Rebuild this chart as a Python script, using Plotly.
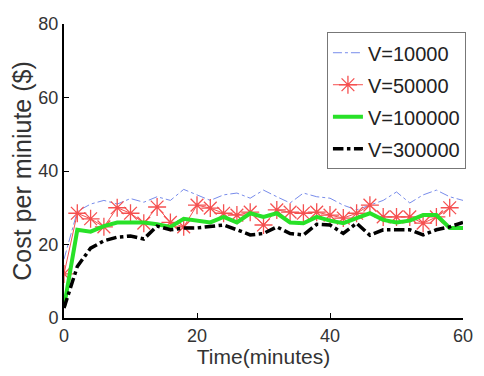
import plotly.graph_objects as go

t = list(range(0, 61, 2))
t_red = list(range(0, 59, 2))

v10000 = [16, 29, 31, 32, 31, 32.5, 31.5, 33, 32, 35, 33.5, 32, 33.5, 34, 32.6, 34.8,
          33, 31.3, 34, 33, 32.6, 30.7, 29.4, 30.7, 32, 34.3, 31.3, 33.5, 34.8, 33, 32]
v50000 = [12, 28.5, 27, 24.8, 30, 28.5, 25.8, 30.2, 26, 24.8, 30.7, 29.9, 28.5, 28, 28.8,
          25.3, 29.4, 28.8, 28.5, 28.8, 28, 27.2, 28.5, 30.7, 27.5, 27.5, 27.5, 25.8, 27.5, 30]
v100000 = [3, 24, 23.5, 25, 26, 26, 26, 25.5, 24.8, 27, 26.5, 26, 27.5, 26, 28.5, 27.5,
           28.5, 26, 25.8, 27.5, 26.5, 25.8, 27.2, 28.5, 26.7, 26, 26.5, 28, 28, 24.5, 24.5]
v300000 = [2.7, 14, 19, 21, 22, 22.3, 21.5, 25, 24, 24.5, 24.5, 24.8, 25.3, 24, 22.6, 23,
           24.8, 23, 22.6, 25.5, 25.3, 23, 25.8, 22.5, 24, 24, 24, 22.6, 24, 24.8, 26]

names = ["V=10000", "V=50000", "V=100000", "V=300000"]
x_ticks = [0, 20, 40, 60]
y_ticks = [0, 20, 40, 60, 80]

fig = go.Figure()
fig.add_trace(go.Scatter(x=t, y=v10000, name=names[0], mode="lines", legendgroup="a",
                         line=dict(color="rgb(120,140,235)", width=1, dash="dashdot")))
fig.add_trace(go.Scatter(x=t_red, y=v50000, name=names[1], mode="lines+markers", legendgroup="b",
                         line=dict(color="rgb(245,80,80)", width=1),
                         marker=dict(symbol="asterisk-open", size=15,
                                     line=dict(color="rgb(245,80,80)", width=1.3))))
fig.add_trace(go.Scatter(x=t, y=v100000, name=names[2], mode="lines", legendgroup="c",
                         line=dict(color="rgb(40,225,40)", width=4)))
fig.add_trace(go.Scatter(x=t, y=v300000, name=names[3], mode="lines", legendgroup="d",
                         line=dict(color="black", width=3.5, dash="dashdot")))

font_family = "Liberation Sans, Arial, sans-serif"
txt = "#333"
# page body has an 8px margin, so the figure is offset by (8, 8); keep it inside the window
fig.update_layout(
    width=468, height=360,
    margin=dict(l=56, r=10, t=16, b=50),
    paper_bgcolor="white", plot_bgcolor="white",
    font=dict(family=font_family, size=18, color=txt),
    showlegend=True,
    legend=dict(x=0.659, y=0.972, xanchor="left", yanchor="top",
                bordercolor="#777", borderwidth=1, bgcolor="white",
                font=dict(size=20, color="#222"),
                traceorder="grouped", tracegroupgap=3,
                itemwidth=30),
    xaxis=dict(range=[0, 60], tickmode="array", tickvals=x_ticks,
               showgrid=False, zeroline=False, showline=True, linecolor="black",
               linewidth=2, ticks="inside", ticklen=5, tickcolor="black",
               tickfont=dict(size=18, color=txt), automargin=False,
               title=dict(text="Time(minutes)", font=dict(size=21, color=txt), standoff=0)),
    yaxis=dict(range=[0, 80], tickmode="array", tickvals=y_ticks,
               showgrid=False, zeroline=False, showline=True, linecolor="black",
               linewidth=2, ticks="inside", ticklen=5, tickcolor="black",
               tickfont=dict(size=18, color=txt), automargin=False,
               title=dict(text="Cost per miniute ($)", font=dict(size=25, color=txt), standoff=4)),
)

fig.write_html("out.html")
